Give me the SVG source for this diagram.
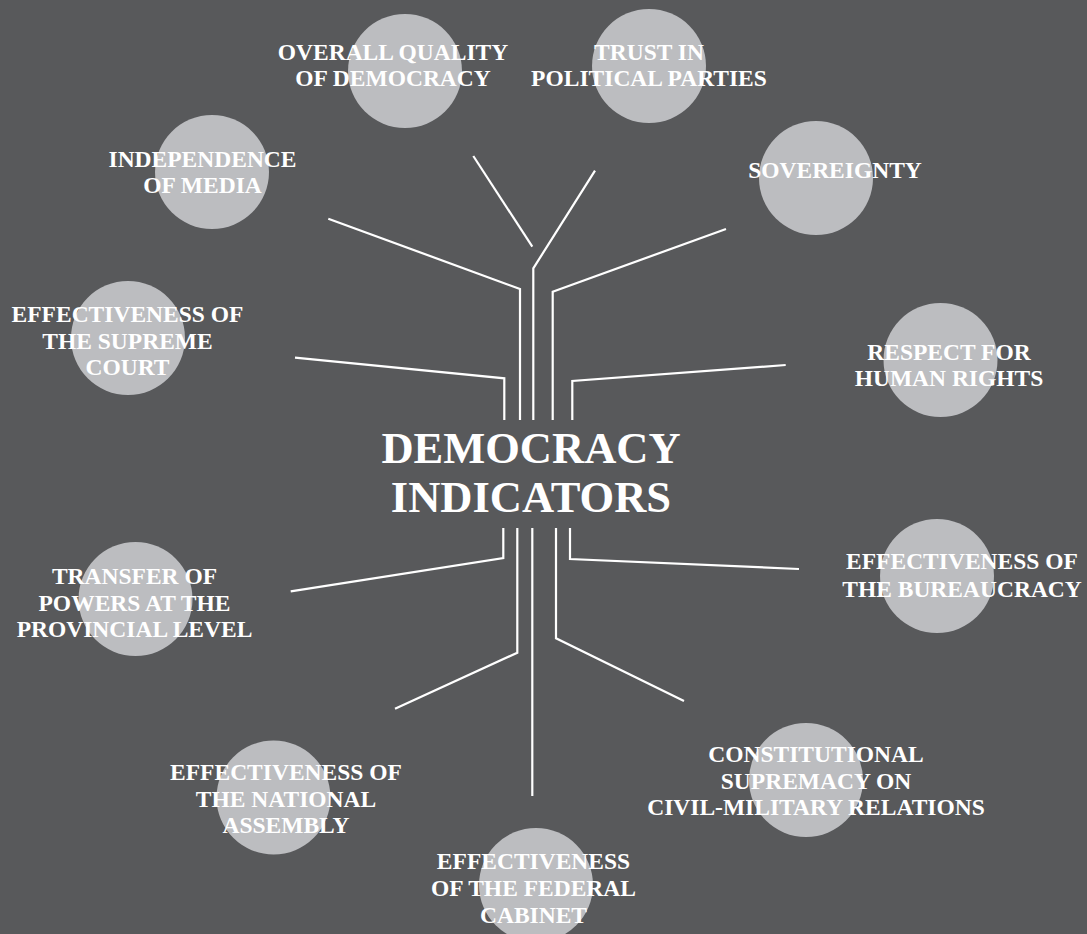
<svg xmlns="http://www.w3.org/2000/svg" width="1087" height="934" viewBox="0 0 1087 934">
<defs>
<style>
.bg{fill:#58595b}
.c{fill:#bcbdc0}
.t{fill:#ffffff;font-family:"Liberation Serif","Times New Roman",serif;font-weight:bold;font-size:23.5px;text-anchor:middle}
.title{fill:#ffffff;font-family:"Liberation Serif","Times New Roman",serif;font-weight:bold;font-size:44.5px;text-anchor:middle}
.ln{fill:none;stroke:#ffffff;stroke-width:2.2;stroke-linejoin:miter}
</style>
</defs>
<rect class="bg" x="0" y="0" width="1087" height="934"/>
<g id="connectors">
<polyline class="ln" points="473.3,156 532.3,246.7"/>
<polyline class="ln" points="595,170.7 533.3,268.3 533.3,420"/>
<polyline class="ln" points="328.3,218.7 520,289 520,420"/>
<polyline class="ln" points="295,357.7 504.3,378.3 504.3,420"/>
<polyline class="ln" points="726,229 552.7,291.7 552.7,420"/>
<polyline class="ln" points="785.7,365 572.3,381 572.3,420"/>
<polyline class="ln" points="503.3,528 503.3,558 290.7,591.3"/>
<polyline class="ln" points="517.3,528 517.3,652.7 395,708.7"/>
<polyline class="ln" points="532.3,528 532.3,796"/>
<polyline class="ln" points="556,528 556,638.3 684,701"/>
<polyline class="ln" points="570,528 570,559 799,569"/>
</g>
<g id="center">
<text class="title" x="531" y="463">DEMOCRACY</text>
<text class="title" x="531" y="512">INDICATORS</text>
</g>
<g id="n-overall">
<circle class="c" cx="405" cy="71" r="57"/>
<text class="t" x="393" y="60">OVERALL QUALITY</text>
<text class="t" x="393" y="86">OF DEMOCRACY</text>
</g>
<g id="n-trust">
<circle class="c" cx="649" cy="66" r="57"/>
<text class="t" x="649" y="60">TRUST IN</text>
<text class="t" x="649" y="86">POLITICAL PARTIES</text>
</g>
<g id="n-media">
<circle class="c" cx="212" cy="172" r="57"/>
<text class="t" x="202.5" y="166.7">INDEPENDENCE</text>
<text class="t" x="202.5" y="192.7">OF MEDIA</text>
</g>
<g id="n-court">
<circle class="c" cx="128" cy="338" r="57"/>
<text class="t" x="127.5" y="322.3">EFFECTIVENESS OF</text>
<text class="t" x="127.5" y="348.5">THE SUPREME</text>
<text class="t" x="127.5" y="375">COURT</text>
</g>
<g id="n-sovereignty">
<circle class="c" cx="816" cy="178" r="57"/>
<text class="t" x="835" y="178.3">SOVEREIGNTY</text>
</g>
<g id="n-rights">
<circle class="c" cx="940.5" cy="360" r="57"/>
<text class="t" x="949" y="360">RESPECT FOR</text>
<text class="t" x="949" y="386">HUMAN RIGHTS</text>
</g>
<g id="n-bureaucracy">
<circle class="c" cx="937" cy="576" r="57"/>
<text class="t" x="962" y="569.3">EFFECTIVENESS OF</text>
<text class="t" x="962" y="596.7">THE BUREAUCRACY</text>
</g>
<g id="n-transfer">
<circle class="c" cx="135.5" cy="599" r="57"/>
<text class="t" x="134.5" y="584.3">TRANSFER OF</text>
<text class="t" x="134.5" y="611">POWERS AT THE</text>
<text class="t" x="134.5" y="637.3">PROVINCIAL LEVEL</text>
</g>
<g id="n-assembly">
<circle class="c" cx="273.5" cy="797.5" r="57"/>
<text class="t" x="286" y="780">EFFECTIVENESS OF</text>
<text class="t" x="286" y="806.7">THE NATIONAL</text>
<text class="t" x="286" y="833.3">ASSEMBLY</text>
</g>
<g id="n-cabinet">
<circle class="c" cx="536" cy="885" r="57"/>
<text class="t" x="533.5" y="869.3">EFFECTIVENESS</text>
<text class="t" x="533.5" y="895.7">OF THE FEDERAL</text>
<text class="t" x="533.5" y="922.7">CABINET</text>
</g>
<g id="n-constitutional">
<circle class="c" cx="806" cy="780" r="57"/>
<text class="t" x="816" y="762.3">CONSTITUTIONAL</text>
<text class="t" x="816" y="789">SUPREMACY ON</text>
<text class="t" x="816" y="815">CIVIL-MILITARY RELATIONS</text>
</g>
</svg>
